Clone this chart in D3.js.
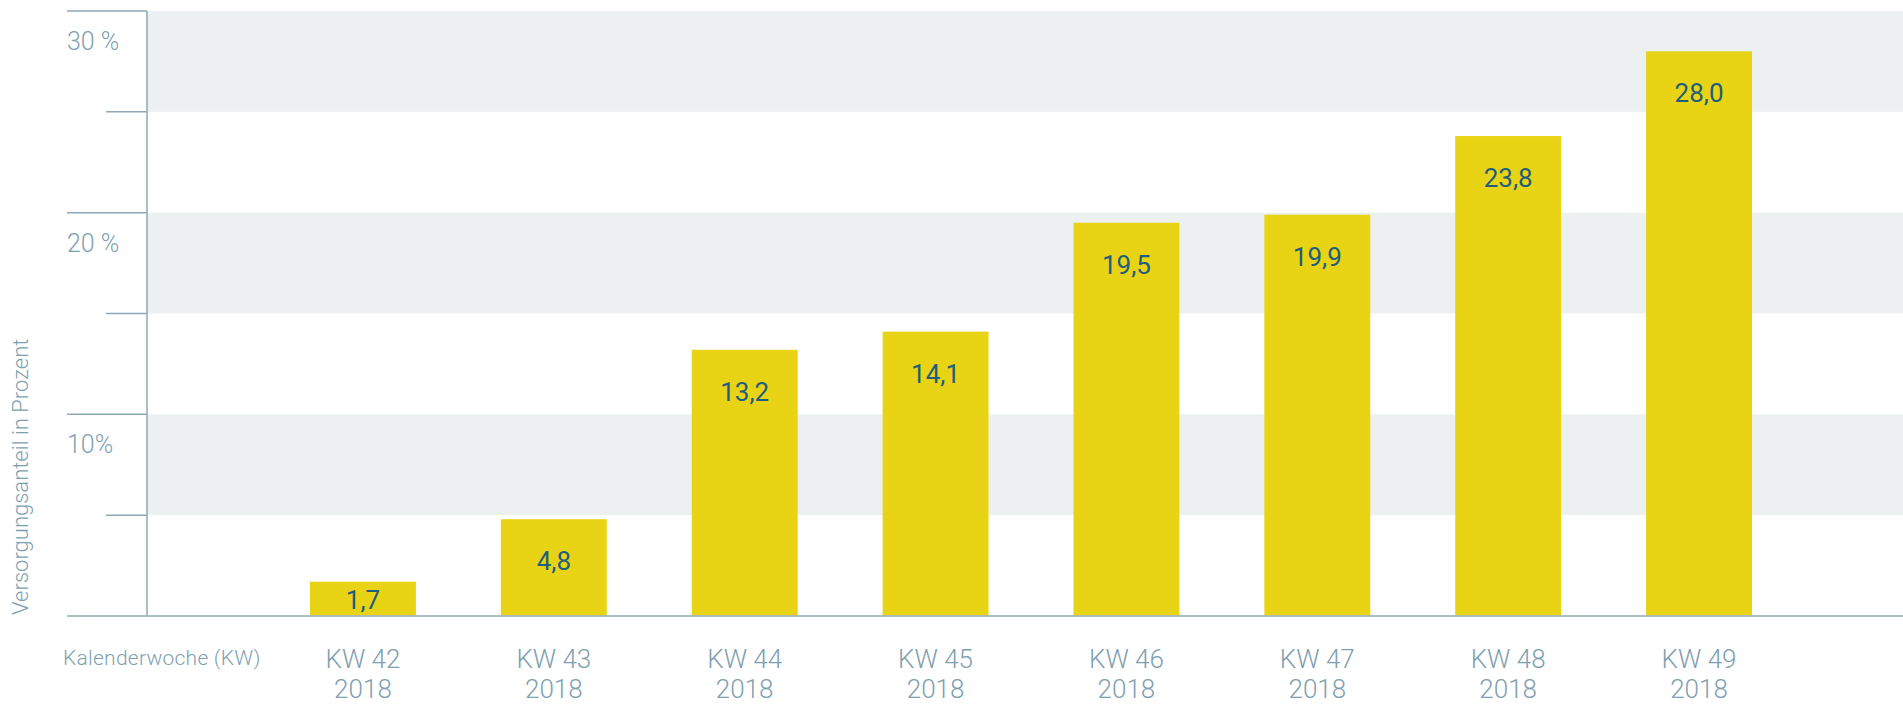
<!DOCTYPE html>
<html>
<head>
<meta charset="utf-8">
<script src="https://cdn.jsdelivr.net/npm/d3@7"></script>
<style>
  body { margin: 0; background: #fff; }
  svg { display: block; font-family: Roboto, "Noto Sans", sans-serif; }
</style>
</head>
<body>
<div id="chart"></div>
<script>
// Werte aus der Grafik
const weeks = ["KW 42", "KW 43", "KW 44", "KW 45", "KW 46", "KW 47", "KW 48", "KW 49"];
const years = ["2018", "2018", "2018", "2018", "2018", "2018", "2018", "2018"];
const shares = [1.7, 4.8, 13.2, 14.1, 19.5, 19.9, 23.8, 28.0];
const majorTicks = [10, 20, 30];
const majorLabels = ["10%", "20 %", "30 %"];
const minorTicks = [5, 15, 25];
const bands = [[5, 10], [15, 20], [25, 30]];

const width = 1903, height = 704;
const axisX = 147, baseY = 616, topY = 11;

const svg = d3.select("#chart").append("svg")
    .attr("width", width).attr("height", height);

const y = d3.scaleLinear().domain([0, 30]).range([baseY, topY]);
const x = d3.scaleBand().domain(weeks)
    .range([axisX, 1915])
    .paddingInner(0.445)
    .paddingOuter(0.854);

// graue Bänder
svg.selectAll(".band")
    .data(bands)
    .enter().append("rect")
    .attr("class", "band")
    .attr("x", axisX)
    .attr("y", d => y(d[1]))
    .attr("width", width - axisX)
    .attr("height", d => y(d[0]) - y(d[1]))
    .attr("fill", "#ecf0f1");

// Balken
svg.selectAll(".bar")
    .data(shares)
    .enter().append("rect")
    .attr("class", "bar")
    .attr("x", (d, i) => x(weeks[i]))
    .attr("y", d => y(d))
    .attr("width", x.bandwidth())
    .attr("height", d => baseY - y(d))
    .attr("fill", "#e8d415");

// Achsen
const axisColor = "#8ea8b7";
svg.append("line")
    .attr("x1", axisX).attr("x2", axisX)
    .attr("y1", topY).attr("y2", baseY)
    .attr("stroke", axisColor).attr("stroke-width", 1.5);

svg.append("line")
    .attr("x1", 67).attr("x2", width)
    .attr("y1", baseY).attr("y2", baseY)
    .attr("stroke", "#a3b7c2").attr("stroke-width", 2)
    .attr("stroke-opacity", 0.9);

svg.selectAll(".major")
    .data(majorTicks)
    .enter().append("line")
    .attr("class", "major")
    .attr("x1", 67).attr("x2", axisX)
    .attr("y1", d => y(d)).attr("y2", d => y(d))
    .attr("stroke", axisColor).attr("stroke-width", 1.5);

svg.selectAll(".minor")
    .data(minorTicks)
    .enter().append("line")
    .attr("class", "minor")
    .attr("x1", 106).attr("x2", axisX)
    .attr("y1", d => y(d)).attr("y2", d => y(d))
    .attr("stroke", axisColor).attr("stroke-width", 1.5);

const labelColor = "#7f9fb1";

svg.selectAll(".ylabel")
    .data(majorTicks)
    .enter().append("text")
    .attr("class", "ylabel")
    .attr("x", 67)
    .attr("y", d => y(d) + 39)
    .attr("fill", labelColor)
    .attr("font-size", 25)
    .attr("font-weight", 300)
    .text((d, i) => majorLabels[i]);

svg.append("text")
    .attr("transform", `translate(28, ${baseY - 1}) rotate(-90)`)
    .attr("fill", labelColor)
    .attr("font-size", 22)
    .attr("font-weight", 300)
    .text("Versorgungsanteil in Prozent");

svg.append("text")
    .attr("x", 63).attr("y", 665)
    .attr("fill", labelColor)
    .attr("font-size", 21)
    .attr("font-weight", 300)
    .attr("letter-spacing", 0.25)
    .text("Kalenderwoche (KW)");

// Kategorien
const cat = svg.selectAll(".cat")
    .data(weeks)
    .enter().append("text")
    .attr("class", "cat")
    .attr("x", d => x(d) + x.bandwidth() / 2)
    .attr("text-anchor", "middle")
    .attr("fill", labelColor)
    .attr("font-size", 26)
    .attr("font-weight", 300);
cat.append("tspan").attr("x", d => x(d) + x.bandwidth() / 2).attr("y", 668).text(d => d);
cat.append("tspan").attr("x", d => x(d) + x.bandwidth() / 2).attr("y", 698).text((d, i) => years[i]);

// Werte in den Balken
svg.selectAll(".val")
    .data(shares)
    .enter().append("text")
    .attr("class", "val")
    .attr("x", (d, i) => x(weeks[i]) + x.bandwidth() / 2)
    .attr("y", d => Math.min(y(d) + 51, baseY - 7))
    .attr("text-anchor", "middle")
    .attr("fill", "#1f5e7c")
    .attr("font-size", 26)
    .text(d => d3.format(".1f")(d).replace(".", ","));
</script>
</body>
</html>
